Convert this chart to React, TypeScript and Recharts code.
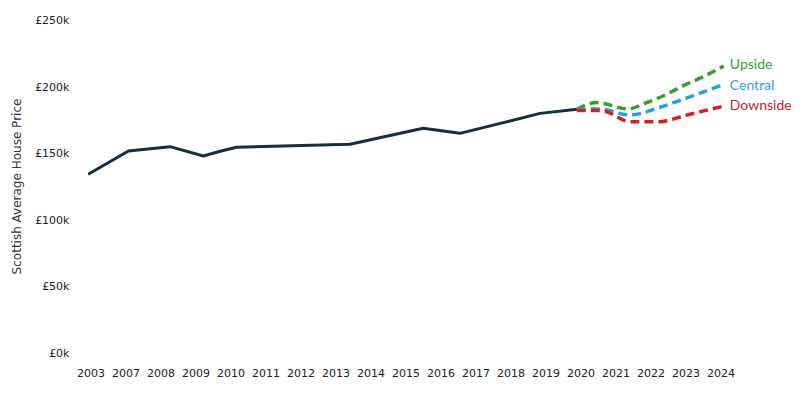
import React from "react";
import { LineChart, Line, XAxis, YAxis } from "recharts";

// x positions are on an index scale: 0 = 2003, 1 = 2007, 2 = 2008, ... 18 = 2024
const tickLabels = ["2003", "2007", "2008", "2009", "2010", "2011", "2012", "2013", "2014", "2015", "2016", "2017", "2018", "2019", "2020", "2021", "2022", "2023", "2024"];
const tickPositions = tickLabels.map((_, i) => i);
const yTicks = [0, 50, 100, 150, 200, 250];

const historyPos = [-0.08, 1.07, 2.26, 3.21, 3.69, 4.16, 7.4, 9.49, 10.54, 12.03, 12.83, 13.89];
const historyVal = [134.2, 151.7, 154.9, 147.9, 151.5, 154.5, 156.7, 168.7, 164.9, 174.5, 179.9, 183];

const upsidePos = [13.88, 14.45, 15.35, 15.83, 16.26, 17.03, 17.5, 18.08];
const upsideVal = [183, 188, 183.2, 187.5, 192, 202, 207.5, 215.5];

const centralPos = [13.88, 14.51, 15.4, 16.26, 17.03, 18.08];
const centralVal = [182.6, 183.2, 178.7, 184.5, 191.5, 201.7];

const downsidePos = [13.88, 14.59, 15.4, 16.26, 17.03, 18.08];
const downsideVal = [182, 182, 173.7, 173.7, 178.7, 185.4];

const build = (pos: number[], val: number[]) => pos.map((p, i) => ({ pos: p, v: val[i] }));

const history = build(historyPos, historyVal);
const upside = build(upsidePos, upsideVal);
const central = build(centralPos, centralVal);
const downside = build(downsidePos, downsideVal);

const endLabel = (name: string, color: string, len: number, dy: number) => (props: any) => {
  const { x, y, index } = props;
  if (index !== len - 1) return null;
  return (
    <text x={x + 6} y={y + dy} fill={color} fontFamily="Lato" fontSize={14} dominantBaseline="central">
      {name}
    </text>
  );
};

const tickFont = { fontFamily: "DejaVu Sans", fontSize: 11, fill: "#222" };

export default function App() {
  return (
    <div style={{ position: "absolute", left: 0, top: 0 }}>
      <LineChart width={800} height={398} margin={{ top: 20, right: 75.5, bottom: 0, left: 0 }}>
        <XAxis
          type="number"
          dataKey="pos"
          domain={[-0.1, 18.1]}
          ticks={tickPositions}
          tickFormatter={(v: number) => tickLabels[v] ?? ""}
          axisLine={false}
          tickLine={false}
          tickSize={0}
          tickMargin={16}
          height={45}
          tick={tickFont}
          interval={0}
          allowDataOverflow
        />
        <YAxis
          type="number"
          domain={[0, 250]}
          ticks={yTicks}
          tickFormatter={(v: number) => `£${v}k`}
          axisLine={false}
          tickLine={false}
          tickSize={0}
          tickMargin={18}
          width={87.5}
          tick={tickFont}
          interval={0}
          label={{
            value: "Scottish Average House Price",
            angle: -90,
            position: "insideLeft",
            offset: 17,
            style: { textAnchor: "middle", fontFamily: "DejaVu Sans", fontSize: 12, fill: "#333" },
          }}
        />
        <Line
          data={history}
          dataKey="v"
          type="linear"
          stroke="#15303d"
          strokeWidth={3}
          dot={false}
          strokeLinejoin="round"
          isAnimationActive={false}
        />
        <Line
          data={upside}
          dataKey="v"
          type="monotone"
          stroke="#3a9e2f"
          strokeWidth={3.5}
          strokeDasharray="9 5"
          dot={false}
          isAnimationActive={false}
          label={endLabel("Upside", "#3a9e2f", upside.length, -2)}
        />
        <Line
          data={central}
          dataKey="v"
          type="monotone"
          stroke="#2b9fdc"
          strokeWidth={3.5}
          strokeDasharray="9 5"
          dot={false}
          isAnimationActive={false}
          label={endLabel("Central", "#2b9fdc", central.length, 0)}
        />
        <Line
          data={downside}
          dataKey="v"
          type="monotone"
          stroke="#d22027"
          strokeWidth={3.5}
          strokeDasharray="9 5"
          dot={false}
          isAnimationActive={false}
          label={endLabel("Downside", "#d22027", downside.length, -2)}
        />
      </LineChart>
    </div>
  );
}
